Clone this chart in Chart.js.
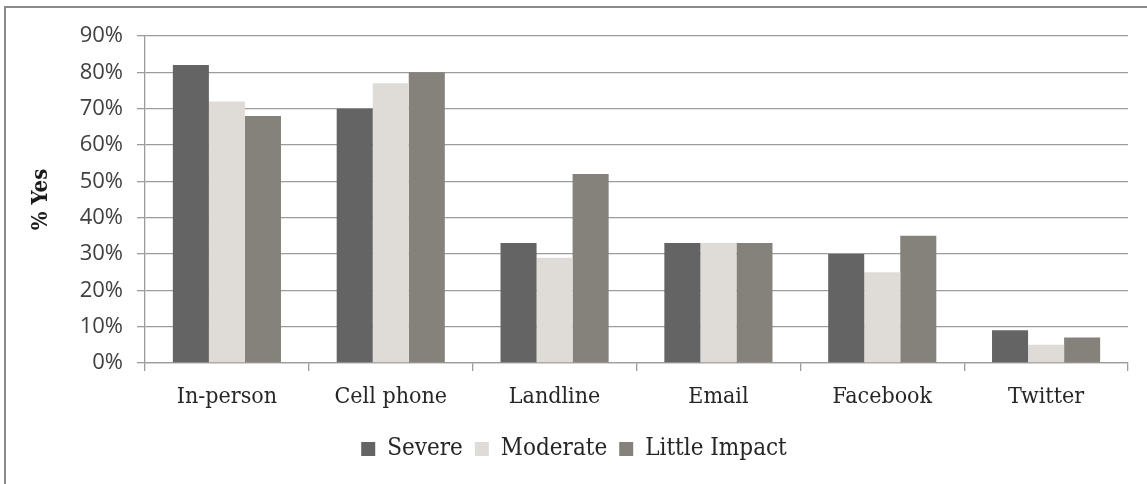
<!DOCTYPE html>
<html lang="en">
<head>
    <meta charset="UTF-8">
    <script src="https://cdn.jsdelivr.net/npm/chart.js"></script>
    <title>% Yes by impact</title>
    <style>
        body { margin: 0; background: #fff; }
        #wrap { position: absolute; left: 0; top: 0; width: 1147px; height: 484px; }
        #frame { position: absolute; left: 4px; top: 6px; width: 1150px; height: 490px;
                 border-top: 2px solid #8a8a8a; border-left: 2px solid #8a8a8a; pointer-events: none; }
    </style>
</head>
<body>
    <div id="wrap">
        <canvas id="grafico"></canvas>
        <div id="frame"></div>
    </div>

    <script>
        const categorias = ['In-person', 'Cell phone', 'Landline', 'Email', 'Facebook', 'Twitter']
        const severe = [82, 70, 33, 33, 30, 9]
        const moderate = [72, 77, 29, 33, 25, 5]
        const littleImpact = [68, 80, 52, 33, 35, 7]
        const yTicks = [0, 10, 20, 30, 40, 50, 60, 70, 80, 90]

        const serif = "'DejaVu Serif Condensed', 'DejaVu Serif', serif"
        const grade = '#9c9c9c'

        const ctx = document.getElementById('grafico')

        new Chart(ctx, {
            type: 'bar',
            data: {
                labels: categorias,
                datasets: [
                    { label: 'Severe', data: severe, backgroundColor: '#646464' },
                    { label: 'Moderate', data: moderate, backgroundColor: '#dfdcd8' },
                    { label: 'Little Impact', data: littleImpact, backgroundColor: '#85827c' }
                ]
            },
            options: {
                responsive: true,
                maintainAspectRatio: false,
                animation: false,
                datasets: { bar: { categoryPercentage: 0.66, barPercentage: 1.0, borderWidth: 0 } },
                layout: { padding: { left: 20, right: 19, top: 36, bottom: 13 } },
                plugins: {
                    tooltip: { enabled: false },
                    legend: {
                        position: 'bottom',
                        labels: {
                            font: { family: serif, size: 24 },
                            color: '#262626',
                            boxWidth: 14,
                            boxHeight: 14,
                            padding: 12
                        }
                    }
                },
                scales: {
                    x: {
                        grid: { display: true, drawOnChartArea: false, drawTicks: true, tickLength: 8, color: grade, lineWidth: 1.3, offset: true },
                        border: { display: true, color: grade, width: 1.3 },
                        ticks: { font: { family: serif, size: 23 }, color: '#262626', padding: 12, maxRotation: 0 },
                        afterFit: (s) => { s.height = 62 }
                    },
                    y: {
                        min: 0,
                        max: 90,
                        afterBuildTicks: (s) => { s.ticks = yTicks.map(v => ({ value: v })) },
                        grid: { color: grade, lineWidth: 1.3, tickLength: 8, drawTicks: true },
                        border: { display: true, color: grade, width: 1.3 },
                        ticks: {
                            font: { family: "'Open Sans', sans-serif", size: 22 },
                            color: '#404040',
                            padding: 14,
                            callback: (v) => v + '%'
                        },
                        title: {
                            display: true,
                            text: '% Yes',
                            font: { family: serif, size: 22, weight: 'bold' },
                            color: '#1a1a1a',
                            padding: { top: 8, bottom: 0 }
                        },
                        afterFit: (s) => { s.width = 125 }
                    }
                }
            }
        })
    </script>
</body>
</html>
